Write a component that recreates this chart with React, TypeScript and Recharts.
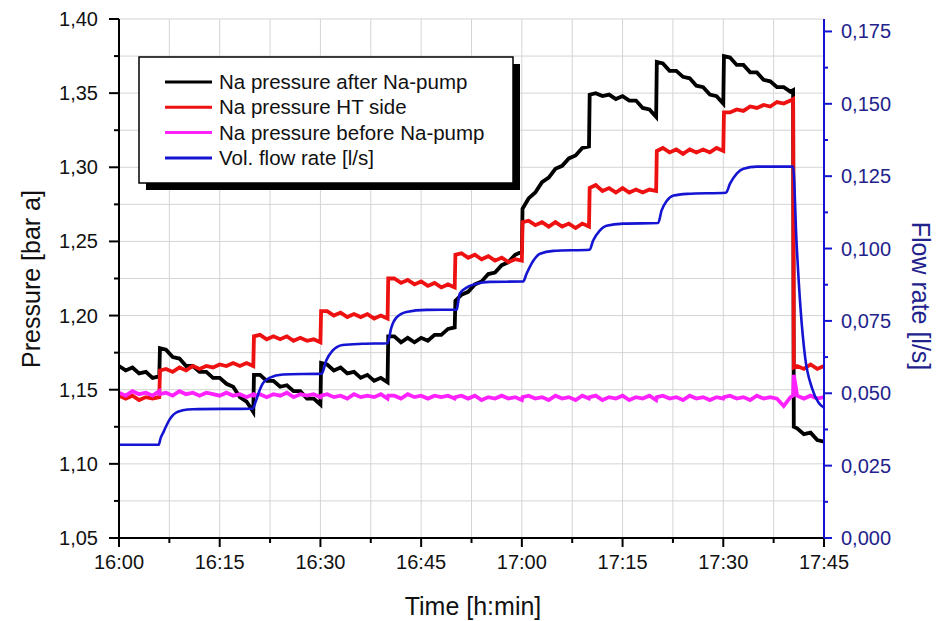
import { CartesianGrid, Line, LineChart, XAxis, YAxis } from "recharts"

// time in minutes after 16:00 (shared by the three pressure signals)
const timeP = [
  0, 1, 2, 3, 4, 5, 6, 6.1,
  7, 8, 9, 10, 11, 12, 13, 14, 15, 16, 17, 18, 19, 20, 20.1,
  21, 22, 23, 24, 25, 26, 27, 28, 29, 30, 30.1,
  31, 32, 33, 34, 35, 36, 37, 38, 39, 40, 40.1,
  41, 42, 43, 44, 45, 46, 47, 48, 49, 50, 50.1,
  51, 52, 53, 54, 55, 56, 57, 58, 59, 60, 60.1,
  61, 62, 63, 64, 65, 66, 67, 68, 69, 70, 70.1,
  71, 72, 73, 74, 75, 76, 77, 78, 79, 80, 80.1,
  81, 82, 83, 84, 85, 86, 87, 88, 89, 90, 90.1,
  91, 92, 93, 94, 95, 96, 97, 98, 99, 100, 100.4, 100.5,
  101, 102, 103, 104, 105,
]

const naAfterPump = [
  1.166, 1.163, 1.165, 1.161, 1.162, 1.158, 1.159, 1.178,
  1.177, 1.172, 1.171, 1.166, 1.166, 1.162, 1.162, 1.158, 1.158, 1.154, 1.152, 1.145, 1.142, 1.135, 1.16,
  1.16, 1.156, 1.156, 1.152, 1.153, 1.149, 1.149, 1.144, 1.144, 1.14, 1.168,
  1.167, 1.163, 1.165, 1.161, 1.162, 1.158, 1.16, 1.156, 1.158, 1.155, 1.186,
  1.186, 1.182, 1.185, 1.182, 1.185, 1.183, 1.187, 1.187, 1.191, 1.192, 1.21,
  1.214, 1.216, 1.221, 1.223, 1.228, 1.229, 1.234, 1.236, 1.241, 1.243, 1.272,
  1.279, 1.283, 1.29, 1.293, 1.299, 1.301, 1.306, 1.308, 1.313, 1.314, 1.349,
  1.35, 1.348, 1.349, 1.346, 1.348, 1.345, 1.345, 1.34, 1.339, 1.334, 1.371,
  1.37, 1.365, 1.365, 1.361, 1.36, 1.355, 1.354, 1.349, 1.348, 1.343, 1.375,
  1.374, 1.369, 1.369, 1.364, 1.364, 1.359, 1.358, 1.354, 1.354, 1.351, 1.352, 1.125,
  1.124, 1.12, 1.121, 1.116, 1.115,
]

const naHtSide = [
  1.146, 1.144, 1.146, 1.143, 1.145, 1.144, 1.145, 1.163,
  1.164, 1.162, 1.165, 1.163, 1.166, 1.164, 1.166, 1.165, 1.167, 1.166, 1.168, 1.166, 1.168, 1.166, 1.186,
  1.187, 1.184, 1.186, 1.184, 1.186, 1.183, 1.185, 1.183, 1.184, 1.182, 1.203,
  1.203, 1.2, 1.202, 1.199, 1.201, 1.199, 1.201, 1.198, 1.2, 1.198, 1.225,
  1.225, 1.222, 1.224, 1.221, 1.223, 1.22, 1.222, 1.219, 1.221, 1.219, 1.241,
  1.242, 1.239, 1.241, 1.238, 1.24, 1.237, 1.239, 1.236, 1.238, 1.237, 1.263,
  1.264, 1.261, 1.263, 1.26, 1.263, 1.26, 1.262, 1.259, 1.262, 1.26, 1.286,
  1.288, 1.284, 1.286, 1.283, 1.286, 1.283, 1.285, 1.283, 1.285, 1.284, 1.311,
  1.313, 1.31, 1.312, 1.309, 1.312, 1.31, 1.312, 1.31, 1.313, 1.311, 1.337,
  1.337, 1.339, 1.338, 1.341, 1.34, 1.342, 1.341, 1.344, 1.343, 1.345, 1.346, 1.165,
  1.166, 1.164, 1.167, 1.164, 1.166,
]

const naBeforePump = [
  1.148, 1.146, 1.149, 1.147, 1.148, 1.146, 1.149, 1.147,
  1.148, 1.146, 1.149, 1.147, 1.148, 1.146, 1.148, 1.147, 1.146, 1.148, 1.146, 1.147, 1.145, 1.147, 1.146,
  1.147, 1.145, 1.147, 1.146, 1.148, 1.145, 1.147, 1.146, 1.147, 1.145, 1.146,
  1.147, 1.145, 1.146, 1.144, 1.147, 1.145, 1.146, 1.145, 1.147, 1.144, 1.146,
  1.146, 1.144, 1.147, 1.145, 1.146, 1.144, 1.146, 1.145, 1.146, 1.144, 1.145,
  1.146, 1.144, 1.146, 1.143, 1.145, 1.144, 1.146, 1.144, 1.145, 1.143, 1.145,
  1.146, 1.144, 1.145, 1.143, 1.146, 1.144, 1.145, 1.143, 1.146, 1.144, 1.145,
  1.146, 1.143, 1.145, 1.144, 1.146, 1.143, 1.145, 1.144, 1.146, 1.143, 1.145,
  1.146, 1.144, 1.145, 1.143, 1.146, 1.144, 1.145, 1.143, 1.145, 1.144, 1.145,
  1.146, 1.144, 1.145, 1.143, 1.146, 1.144, 1.145, 1.144, 1.139, 1.145, 1.146, 1.16,
  1.146, 1.144, 1.146, 1.144, 1.145,
]

// volumetric flow rate, own time base
const timeFlow = [
  0, 5.9, 6.2, 6.6, 7.0, 7.5, 8.0, 8.5, 9.5, 11,
  19.9, 20.4, 20.9, 21.4, 22.4, 24.4,
  30.2, 30.85, 31.8, 33.3, 36.3,
  40.0, 40.55, 41.3, 42.8, 45.8,
  50.3, 50.5, 50.75, 51.7, 53.2, 55.2,
  60.2, 60.7, 61.7, 62.7, 64.7,
  70.1, 70.6, 71.6, 72.6, 75.1,
  80.3, 80.8, 81.6, 82.6, 84.6,
  90.4, 91.0, 92.0, 93.0, 95.0,
  100.4, 100.9, 101.5, 102.2, 103.2, 104.2, 105,
]
const flowRate = [
  0.0322, 0.0322, 0.0345, 0.0365, 0.0385, 0.0408, 0.0424, 0.0433, 0.0441, 0.0445,
  0.0447, 0.0474, 0.0508, 0.0533, 0.0553, 0.0565,
  0.0568, 0.0612, 0.0647, 0.0667, 0.0671,
  0.0673, 0.0726, 0.0761, 0.0781, 0.0788,
  0.0789, 0.0813, 0.0844, 0.0864, 0.0878, 0.0885,
  0.0886, 0.0913, 0.0958, 0.0982, 0.0992,
  0.0996, 0.1027, 0.1062, 0.1079, 0.1086,
  0.1088, 0.1131, 0.1165, 0.1183, 0.1189,
  0.1193, 0.1224, 0.1259, 0.1276, 0.1283,
  0.1283, 0.1027, 0.0795, 0.0622, 0.0519, 0.0467, 0.045,
]

const timeTicks = [0, 7.5, 15, 22.5, 30, 37.5, 45, 52.5, 60, 67.5, 75, 82.5, 90, 97.5, 105]
const timeLabels = ["16:00", "16:15", "16:30", "16:45", "17:00", "17:15", "17:30", "17:45"]
const pressureTicks = [1.05, 1.075, 1.1, 1.125, 1.15, 1.175, 1.2, 1.225, 1.25, 1.275, 1.3, 1.325, 1.35, 1.375, 1.4]
const flowTicks = [0, 0.0125, 0.025, 0.0375, 0.05, 0.0625, 0.075, 0.0875, 0.1, 0.1125, 0.125, 0.1375, 0.15, 0.1625, 0.175]

const FONT = "'Liberation Sans', Arial, sans-serif"
const BLUE = "#1414d2"
const NAVY = "#22228c"

const series = [
  { name: "Na pressure after Na-pump", color: "#000000", values: naAfterPump },
  { name: "Na pressure HT side", color: "#ee1111", values: naHtSide },
  { name: "Na pressure before Na-pump", color: "#ff22ff", values: naBeforePump },
]
const flowData = timeFlow.map((t, i) => ({ t, v: flowRate[i] }))

const PressureTick = (props: any) => {
  const { x, y, index } = props
  const major = index % 2 === 0
  return (
    <g>
      <line x1={x - (major ? 10 : 5)} x2={x} y1={y} y2={y} stroke="#000" strokeWidth={2} />
      {major && (
        <text x={x - 21} y={y + 7} textAnchor="end" fontSize={20} fontFamily={FONT} fill="#111">
          {props.payload.value.toFixed(2).replace(".", ",")}
        </text>
      )}
    </g>
  )
}

const FlowTick = (props: any) => {
  const { x, y, index } = props
  const major = index % 2 === 0
  return (
    <g>
      <line x1={x} x2={x + (major ? 8 : 4)} y1={y} y2={y} stroke={BLUE} strokeWidth={2} />
      {major && (
        <text x={x + 17} y={y + 7} textAnchor="start" fontSize={20} fontFamily={FONT} fill={NAVY}>
          {props.payload.value.toFixed(3).replace(".", ",")}
        </text>
      )}
    </g>
  )
}

const TimeTick = (props: any) => {
  const { x, y, index } = props
  const major = index % 2 === 0
  return (
    <g>
      <line x1={x} x2={x} y1={y} y2={y + (major ? 9 : 5)} stroke="#000" strokeWidth={2} />
      {major && (
        <text x={x} y={y + 31} textAnchor="middle" fontSize={20} fontFamily={FONT} fill="#111">
          {timeLabels[index / 2]}
        </text>
      )}
    </g>
  )
}

const TopTick = (props: any) => {
  const { x, y, index } = props
  const major = index % 2 === 0
  return <line x1={x} x2={x} y1={y} y2={y + (major ? 9 : 5)} stroke="#000" strokeWidth={2} />
}

export default function App() {
  return (
    <div style={{ position: "absolute", left: 0, top: 0, width: 945, height: 621, background: "#fff" }}>
      <LineChart width={945} height={621} margin={{ top: 19, right: 0, bottom: 0, left: 0 }}>
        <CartesianGrid stroke="#d4d4d4" strokeWidth={1} />
        <XAxis
          dataKey="t"
          type="number"
          domain={[0, 105]}
          allowDataOverflow
          ticks={timeTicks}
          interval={0}
          height={83}
          tickSize={0}
          tickMargin={0}
          tick={TimeTick}
          axisLine={{ stroke: "#000", strokeWidth: 2 }}
        />
        <XAxis
          xAxisId="top"
          orientation="top"
          dataKey="t"
          type="number"
          domain={[0, 105]}
          allowDataOverflow
          ticks={timeTicks}
          interval={0}
          height={0}
          tickSize={0}
          tickMargin={0}
          tick={TopTick}
          axisLine={{ stroke: "#000", strokeWidth: 2 }}
        />
        <YAxis
          type="number"
          domain={[1.05, 1.4]}
          allowDataOverflow
          ticks={pressureTicks}
          interval={0}
          width={119}
          tickSize={0}
          tickMargin={0}
          tick={PressureTick}
          axisLine={{ stroke: "#000", strokeWidth: 2 }}
        />
        <YAxis
          yAxisId="flow"
          orientation="right"
          type="number"
          domain={[0, 0.1793]}
          allowDataOverflow
          ticks={flowTicks}
          interval={0}
          width={121}
          tickSize={0}
          tickMargin={0}
          tick={FlowTick}
          axisLine={{ stroke: BLUE, strokeWidth: 2 }}
        />
        {series.map((s) => (
          <Line
            key={s.name}
            data={timeP.map((t, i) => ({ t, v: s.values[i] }))}
            dataKey="v"
            name={s.name}
            type="linear"
            stroke={s.color}
            strokeWidth={3.8}
            strokeLinejoin="miter"
            dot={false}
            isAnimationActive={false}
          />
        ))}
        <Line
          yAxisId="flow"
          data={flowData}
          dataKey="v"
          name="Vol. flow rate [l/s]"
          type="monotone"
          stroke={BLUE}
          strokeWidth={2.6}
          dot={false}
          isAnimationActive={false}
        />
      </LineChart>
      <svg
        width={945}
        height={621}
        style={{ position: "absolute", left: 0, top: 0, pointerEvents: "none" }}
        fontFamily={FONT}
      >
        <rect x={146} y={64} width={374} height={126} fill="#000" />
        <rect x={139} y={57} width={374} height={126} fill="#fff" stroke="#000" strokeWidth={1.5} />
        {[...series.map((s) => ({ name: s.name, color: s.color })), { name: "Vol. flow rate [l/s]", color: BLUE }].map(
          (s, i) => (
            <g key={s.name}>
              <line x1={165} x2={212} y1={82 + i * 25.3} y2={82 + i * 25.3} stroke={s.color} strokeWidth={3} />
              <text x={219} y={89 + i * 25.3} fontSize={20.5} fill="#111">
                {s.name}
              </text>
            </g>
          )
        )}
        <text x={473} y={615} textAnchor="middle" fontSize={25} fill="#111">
          Time [h:min]
        </text>
        <text x={40} y={279} textAnchor="middle" fontSize={25} fill="#111" transform="rotate(-90 40 279)">
          Pressure [bar a]
        </text>
        <text x={912} y={296} textAnchor="middle" fontSize={25} fill={NAVY} transform="rotate(90 912 296)">
          Flow rate [l/s]
        </text>
      </svg>
    </div>
  )
}
